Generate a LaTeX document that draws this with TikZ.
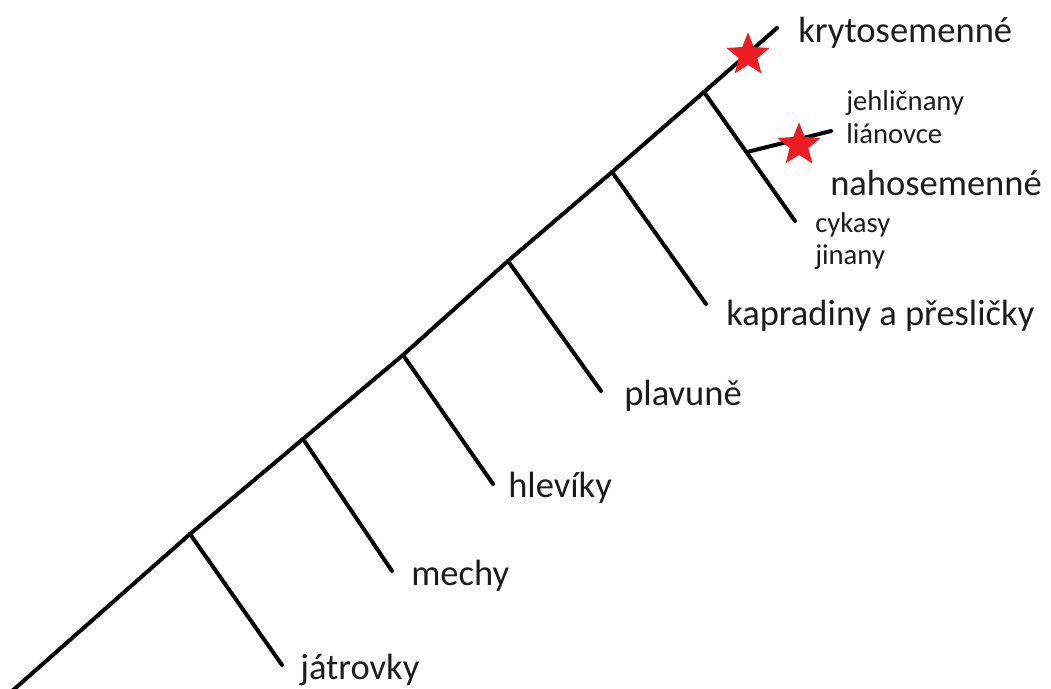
\documentclass[tikz,border=0pt]{standalone}
\usepackage{fontspec}
\setmainfont{Carlito}
\usetikzlibrary{shapes.geometric}
\definecolor{txt}{HTML}{1C1C1C}
\definecolor{starred}{HTML}{ED1C24}
\tikzset{
  edge/.style={line width=3pt, line cap=round, line join=round, black},
  biglabel/.style={anchor=base west, inner sep=0pt, text=txt, font=\fontsize{27.4}{30}\selectfont},
  smalllabel/.style={anchor=base west, inner sep=0pt, text=txt, font=\fontsize{21.5}{24}\selectfont},
  redstar/.style={star, star points=5, star point ratio=2.3, fill=starred, draw=none, minimum size=34pt, inner sep=0pt}
}
\begin{document}
\begin{tikzpicture}[x=0.75pt,y=-0.75pt]
\useasboundingbox (0,0) rectangle (1051,689);
% main line
\coordinate (root) at (11,692);
\coordinate (b1) at (190,534);
\coordinate (b2) at (303,439);
\coordinate (b3) at (403,355);
\coordinate (b4) at (508,261);
\coordinate (b5) at (612,172);
\coordinate (b6) at (704,92);
\coordinate (tip) at (777,28);
\draw[edge] (root) -- (b1) -- (b2) -- (b3) -- (b4) -- (b5) -- (b6) -- (tip);
% branch ends
\coordinate (e1) at (282,665);
\coordinate (e2) at (392,571);
\coordinate (e3) at (493,484);
\coordinate (e4) at (601,391);
\coordinate (e5) at (706,304);
\coordinate (e6) at (795,221);
\coordinate (s0) at (747,152);
\coordinate (s1) at (831,131);
\draw[edge] (b1) -- (e1);
\draw[edge] (b2) -- (e2);
\draw[edge] (b3) -- (e3);
\draw[edge] (b4) -- (e4);
\draw[edge] (b5) -- (e5);
\draw[edge] (b6) -- (e6);
\draw[edge] (s0) -- (s1);
% stars
\node[redstar] (st1) at (748,55) {};
\node[redstar] (st2) at (799,145) {};
% labels
\node[biglabel] (kryt) at (798,42) {krytosemenné};
\node[smalllabel] (jehl) at (846,110) {jehličnany};
\node[smalllabel] (lian) at (846,143) {liánovce};
\node[biglabel] (naho) at (830,195) {nahosemenné};
\node[smalllabel] (cyk) at (815,232) {cykasy};
\node[smalllabel] (jin) at (815,264) {jinany};
\node[biglabel] (kap) at (726,325) {kapradiny a přesličky};
\node[biglabel] (plav) at (624,405) {plavuně};
\node[biglabel] (hlev) at (508,497) {hlevíky};
\node[biglabel] (mech) at (411,585) {mechy};
\node[biglabel] (jatr) at (300,679) {játrovky};
\end{tikzpicture}
\end{document}
